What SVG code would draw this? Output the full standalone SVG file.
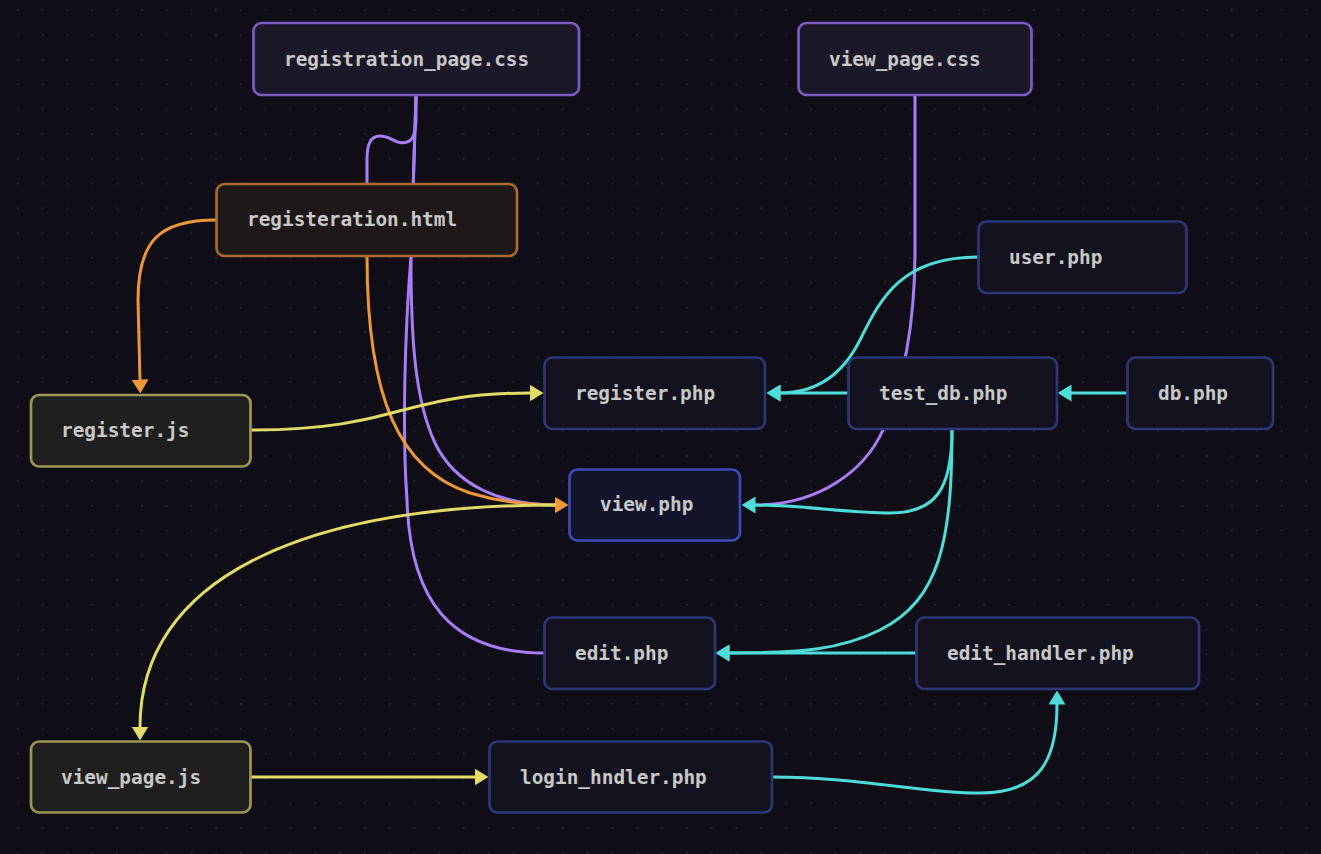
<svg xmlns="http://www.w3.org/2000/svg" width="1321" height="854" viewBox="0 0 1321 854">
<defs>
<pattern id="grid" patternUnits="userSpaceOnUse" x="17" y="9.3" width="24.78" height="24.78">
<rect x="0" y="0" width="1.5" height="1.5" fill="#2d2d37"/>
</pattern>
<marker id="a-or" markerUnits="userSpaceOnUse" viewBox="0 0 14 17" markerWidth="14" markerHeight="17" refX="0.5" refY="8.5" orient="auto"><path d="M0,0 L14,8.5 L0,17 z" fill="#ee9738"/></marker>
<marker id="a-ye" markerUnits="userSpaceOnUse" viewBox="0 0 14 17" markerWidth="14" markerHeight="17" refX="0.5" refY="8.5" orient="auto"><path d="M0,0 L14,8.5 L0,17 z" fill="#e1dc68"/></marker>
<marker id="a-cy" markerUnits="userSpaceOnUse" viewBox="0 0 14 17" markerWidth="14" markerHeight="17" refX="0.5" refY="8.5" orient="auto"><path d="M0,0 L14,8.5 L0,17 z" fill="#4edcd8"/></marker>
</defs>
<style>
.e{fill:none;stroke-width:3}
.pu{stroke:#a77ef7}
.or{stroke:#ee9738;marker-end:url(#a-or)}
.ye{stroke:#e1dc68;marker-end:url(#a-ye)}
.cy{stroke:#4edcd8;marker-end:url(#a-cy)}
.n rect{stroke-width:2.7}
.css rect{fill:#1b1828;stroke:#7c5cc0}
.html rect{fill:#1e1918;stroke:#a96b2f}
.js rect{fill:#201f1f;stroke:#9b9753}
.php rect{fill:#13131f;stroke:#2d3677}
.act rect{fill:#13142a;stroke:#3b4cb8}
.n text{font-family:"DejaVu Sans Mono","Liberation Mono",monospace;font-size:19.4px;font-weight:bold;fill:#c8c8c8}
</style>
<rect width="1321" height="854" fill="#0f0e16"/>
<rect width="1321" height="854" fill="url(#grid)"/>
<g id="connectors">
<path class="e pu" d="M416,95 L416,118 C416,136 412,143 402,142.7 C394,142.5 390,136 380,136 C370,136 367,145 367,160 L367,184"/>
<path class="e pu" d="M416,95 L411,260 C411,340 415,400 435,443 C455,485 500,505 556,505"/>
<path class="e pu" d="M416,95 L411,256 C405,330 402,430 407,500 C410,600 450,653 544,653"/>
<path class="e pu" d="M915,95 L915,250 C915,320 905,380 883,430 C865,470 820,505 755,505"/>
<path class="e or" d="M216,220 C160,220 138,240 138,300 L140,380"/>
<path class="e or" d="M367,256 C367,400 400,470 470,493 C500,502 530,505 555,505"/>
<path class="e ye" d="M251,430 C400,430 400,393 530,393"/>
<path class="e ye" d="M556,505 C300,505 140,580 140,727"/>
<path class="e ye" d="M251,777 L475,777"/>
<path class="e cy" d="M978,257 C900,257 880,300 860,340 C840,380 810,393 780,393"/>
<path class="e cy" d="M848,393 L780,393"/>
<path class="e cy" d="M1127,393 L1071,393"/>
<path class="e cy" d="M952,430 C952,490 935,513 890,513 C850,513 800,505 755,505"/>
<path class="e cy" d="M952,430 C952,540 940,600 880,630 C840,650 800,653 729,653"/>
<path class="e cy" d="M916,653 L729,653"/>
<path class="e cy" d="M772,777 C860,777 920,793 980,793 C1040,793 1057,760 1057,704"/>
</g>
<g id="n-registration_page_css" class="n css"><rect x="253.5" y="23" width="325.5" height="72" rx="8"/><text x="284" y="65.5">registration_page.css</text></g>
<g id="n-view_page_css" class="n css"><rect x="798.5" y="23" width="233" height="72" rx="8"/><text x="829" y="65.5">view_page.css</text></g>
<g id="n-registeration_html" class="n html"><rect x="216.5" y="184" width="300.5" height="72" rx="8"/><text x="247" y="226">registeration.html</text></g>
<g id="n-user_php" class="n php"><rect x="978.5" y="221.5" width="208" height="71.5" rx="8"/><text x="1009" y="263.5">user.php</text></g>
<g id="n-register_js" class="n js"><rect x="31" y="395" width="219.5" height="71.5" rx="8"/><text x="61" y="437">register.js</text></g>
<g id="n-register_php" class="n php"><rect x="544.5" y="357.5" width="220.5" height="71.5" rx="8"/><text x="575" y="399.5">register.php</text></g>
<g id="n-test_db_php" class="n php"><rect x="848.5" y="357.5" width="208.5" height="71.5" rx="8"/><text x="879" y="399.5">test_db.php</text></g>
<g id="n-db_php" class="n php"><rect x="1127.5" y="357.5" width="145.5" height="71.5" rx="8"/><text x="1158" y="399.5">db.php</text></g>
<g id="n-view_php" class="n php act"><rect x="569.5" y="469.5" width="170.5" height="71" rx="8"/><text x="600" y="511">view.php</text></g>
<g id="n-edit_php" class="n php"><rect x="544.5" y="617.5" width="170.5" height="71.5" rx="8"/><text x="575" y="659.5">edit.php</text></g>
<g id="n-edit_handler_php" class="n php"><rect x="916.5" y="617.5" width="282.5" height="71.5" rx="8"/><text x="947" y="659.5">edit_handler.php</text></g>
<g id="n-view_page_js" class="n js"><rect x="31" y="741.5" width="219.5" height="71" rx="8"/><text x="61" y="783.5">view_page.js</text></g>
<g id="n-login_hndler_php" class="n php"><rect x="489.5" y="741.5" width="282.5" height="71" rx="8"/><text x="520" y="783.5">login_hndler.php</text></g>
</svg>
